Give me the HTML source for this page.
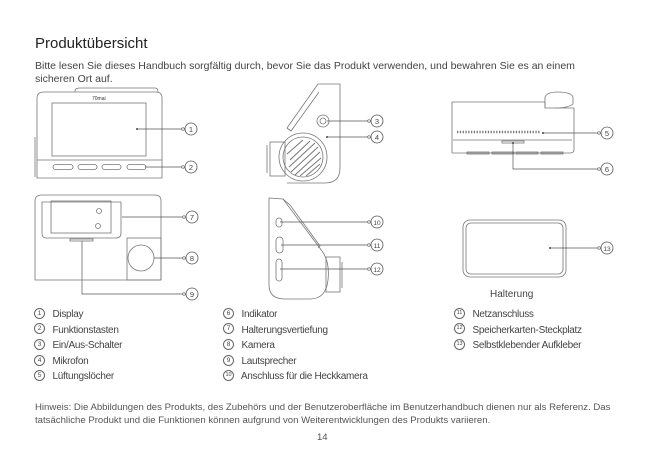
<!DOCTYPE html>
<html><head><meta charset="utf-8"><style>
html,body{margin:0;padding:0;background:#fff;}
body{width:650px;height:461px;position:relative;overflow:hidden;font-family:"Liberation Sans","DejaVu Sans",sans-serif;color:#3a3a3a;}
.t{position:absolute;white-space:nowrap;}
.c{display:inline-block;width:9px;height:9px;border:0.8px solid #666;border-radius:50%;font-size:6.5px;line-height:9px;text-align:center;vertical-align:middle;color:#444;letter-spacing:0;}
.col{position:absolute;font-size:10px;letter-spacing:-0.3px;line-height:15.6px;color:#444;white-space:nowrap;}
.col div{height:15.6px;}
.col .c{margin-right:5px;position:relative;top:-1px;}
</style></head><body>
<div class="t" style="left:35px;top:35px;font-size:15px;color:#222">Produktübersicht</div>
<div class="t" style="left:35px;top:60px;font-size:10.5px;line-height:12.5px;color:#444">Bitte lesen Sie dieses Handbuch sorgfältig durch, bevor Sie das Produkt verwenden, und bewahren Sie es an einem<br>sicheren Ort auf.</div>

<svg width="650" height="461" style="position:absolute;left:0;top:0" fill="none" stroke="#777" stroke-width="0.8" font-family="Liberation Sans, sans-serif">
<path d="M75 92 L75 90 Q76 88 80 88 L155 88 Q158 88 158 92"/>
<path d="M37 178 L37 98 Q37 92 44 92 L156 92 Q162 92 162 98 L162 178 Z"/>
<rect x="52" y="103" width="94" height="53"/>
<line x1="37" y1="160" x2="162" y2="160"/>
<line x1="35" y1="137" x2="35" y2="177"/>
<rect x="53" y="164.5" width="20" height="5" rx="2.5"/><rect x="78" y="164.5" width="19" height="5" rx="2.5"/>
<rect x="102" y="164.5" width="19" height="5" rx="2.5"/><rect x="127" y="164.5" width="19" height="5" rx="2.5"/>
<text x="92" y="100" font-size="5" fill="#333" stroke="none">70mai</text>
<path d="M35 280 L35 201 Q35 195 42 195 L155 195 Q161 195 161 201 L161 280 Z"/>
<path d="M42 202 L121 202 L121 233 Q121 238 116 238 L46 238 Q42 238 42 233 Z"/>
<rect x="51" y="201" width="60" height="32"/>
<circle cx="99" cy="211" r="2.5"/><circle cx="98" cy="226" r="2.5"/>
<rect x="70" y="239" width="23" height="2"/>
<rect x="127" y="238" width="34" height="42"/>
<circle cx="141" cy="258" r="13"/>
<path d="M318 84 L340 84 L340 168 Q340 183 325 183 L287 183"/>
<path d="M318 84 L287 128 L291 131 L319 92"/>
<circle cx="303" cy="157" r="24"/><circle cx="303" cy="157" r="20"/>
<g stroke-width="1"><line x1="290" y1="160" x2="310" y2="141"/><line x1="289" y1="167" x2="315" y2="143"/><line x1="291" y1="172" x2="318" y2="147"/><line x1="295" y1="175" x2="320" y2="152"/><line x1="300" y1="176" x2="321" y2="158"/><line x1="306" y1="176" x2="320" y2="164"/><line x1="287" y1="154" x2="303" y2="140"/></g>
<rect x="270" y="142" width="15" height="34"/>
<line x1="267" y1="145" x2="267" y2="173"/>
<circle cx="323" cy="121" r="6"/><circle cx="323" cy="121" r="3"/>
<path d="M269 198 L283 199 L322 251 Q330 262 328 280 Q326 299 310 299 L285 299 Q269 299 269 285 Z"/>
<path d="M283 199 L290 205 L320 246 L318 248"/>
<rect x="326" y="257" width="14" height="35"/>
<line x1="342" y1="262" x2="342" y2="288"/>
<rect x="276" y="218" width="6" height="9" rx="3"/>
<rect x="276" y="237" width="7" height="16" rx="3.5"/>
<rect x="276" y="259" width="6" height="22" rx="3"/>
<path d="M452 153 L452 102 L545 102"/>
<path d="M545 108 L545 97 Q547 92 558 92 Q571 92 573 97 L573 104 Q568 108 555 108"/>
<path d="M545 102 L545 108 L574 108 L574 150 Q574 153 570 153 L452 153"/>
<path d="M453 140 L572 140"/>
<rect x="467" y="152" width="22" height="2"/><rect x="492" y="152" width="22" height="2"/><rect x="516" y="152" width="22" height="2"/><rect x="541" y="152" width="22" height="2"/>
<line x1="457" y1="132" x2="540" y2="132" stroke-width="2.5" stroke-dasharray="1.3 1.5"/>
<rect x="502" y="141" width="22" height="2"/>
<rect x="463" y="220" width="103" height="57" rx="7"/>
<rect x="466" y="223" width="97" height="51" rx="5"/>
<g stroke="#555" stroke-width="0.7">
<path d="M137 129 H182"/><path d="M145 167 H182"/>
<path d="M122 217 H183"/><path d="M154 258 H183"/><path d="M82 241 V294 H183"/>
<path d="M327 121 H369"/><path d="M327 137 H369"/>
<path d="M280 222 H369"/><path d="M281 245 H369"/><path d="M280 269 H369"/>
<path d="M543 133 H598"/><path d="M513 143 V169 H598"/><path d="M550 248 H598"/>
</g>
<g fill="#fff" stroke="#666" stroke-width="0.7">
<circle cx="183" cy="129" r="1.3"/><circle cx="183" cy="167" r="1.3"/><circle cx="184" cy="217" r="1.3"/><circle cx="184" cy="258" r="1.3"/><circle cx="184" cy="294" r="1.3"/>
<circle cx="369" cy="121" r="1.3"/><circle cx="369" cy="137" r="1.3"/><circle cx="369" cy="222" r="1.3"/><circle cx="369" cy="245" r="1.3"/><circle cx="369" cy="269" r="1.3"/>
<circle cx="599" cy="133" r="1.3"/><circle cx="599" cy="169" r="1.3"/><circle cx="599" cy="248" r="1.3"/>
</g>
<g fill="#444" stroke="none"><circle cx="137" cy="129" r="1"/><circle cx="327" cy="137" r="1"/><circle cx="550" cy="248" r="1"/><circle cx="543" cy="133" r="1"/><circle cx="513" cy="143" r="1"/></g>
<g stroke="#555" stroke-width="0.8">
<circle cx="191" cy="129" r="6"/><circle cx="191" cy="167" r="6"/><circle cx="192" cy="217" r="6"/><circle cx="192" cy="258" r="6"/><circle cx="192" cy="294" r="6"/>
<circle cx="377" cy="121" r="6"/><circle cx="377" cy="137" r="6"/><circle cx="377" cy="222" r="6"/><circle cx="377" cy="245" r="6"/><circle cx="377" cy="269" r="6"/>
<circle cx="607" cy="133" r="6"/><circle cx="607" cy="169" r="6"/><circle cx="607" cy="248" r="6"/>
</g>
<g fill="#444" stroke="none" font-size="7.5" text-anchor="middle">
<text x="191" y="132">1</text><text x="191" y="170">2</text><text x="192" y="220">7</text><text x="192" y="261">8</text><text x="192" y="297">9</text>
<text x="377" y="124">3</text><text x="377" y="140">4</text><text x="377" y="225" font-size="6.5">10</text><text x="377" y="248" font-size="6.5">11</text><text x="377" y="272" font-size="6.5">12</text>
<text x="607" y="136">5</text><text x="607" y="172">6</text><text x="607" y="251" font-size="6.5">13</text>
</g>
</svg>

<div class="t" style="left:490px;top:289px;font-size:10px;color:#444">Halterung</div>

<div class="col" style="left:34px;top:307px"><div><span class="c">1</span> Display</div><div><span class="c">2</span> Funktionstasten</div><div><span class="c">3</span> Ein/Aus-Schalter</div><div><span class="c">4</span> Mikrofon</div><div><span class="c">5</span> Lüftungslöcher</div></div>
<div class="col" style="left:223px;top:307px"><div><span class="c">6</span> Indikator</div><div><span class="c">7</span> Halterungsvertiefung</div><div><span class="c">8</span> Kamera</div><div><span class="c">9</span> Lautsprecher</div><div><span class="c" style="font-size:5.5px">10</span> Anschluss für die Heckkamera</div></div>
<div class="col" style="left:454px;top:307px"><div><span class="c" style="font-size:5.5px">11</span> Netzanschluss</div><div><span class="c" style="font-size:5.5px">12</span> Speicherkarten-Steckplatz</div><div><span class="c" style="font-size:5.5px">13</span> Selbstklebender Aufkleber</div></div>

<div class="t" style="left:35px;top:401px;font-size:9.6px;line-height:13px;color:#555">Hinweis: Die Abbildungen des Produkts, des Zubehörs und der Benutzeroberfläche im Benutzerhandbuch dienen nur als Referenz. Das<br>tatsächliche Produkt und die Funktionen können aufgrund von Weiterentwicklungen des Produkts variieren.</div>
<div class="t" style="left:317px;top:432px;font-size:9.5px;color:#555">14</div>
</body></html>
